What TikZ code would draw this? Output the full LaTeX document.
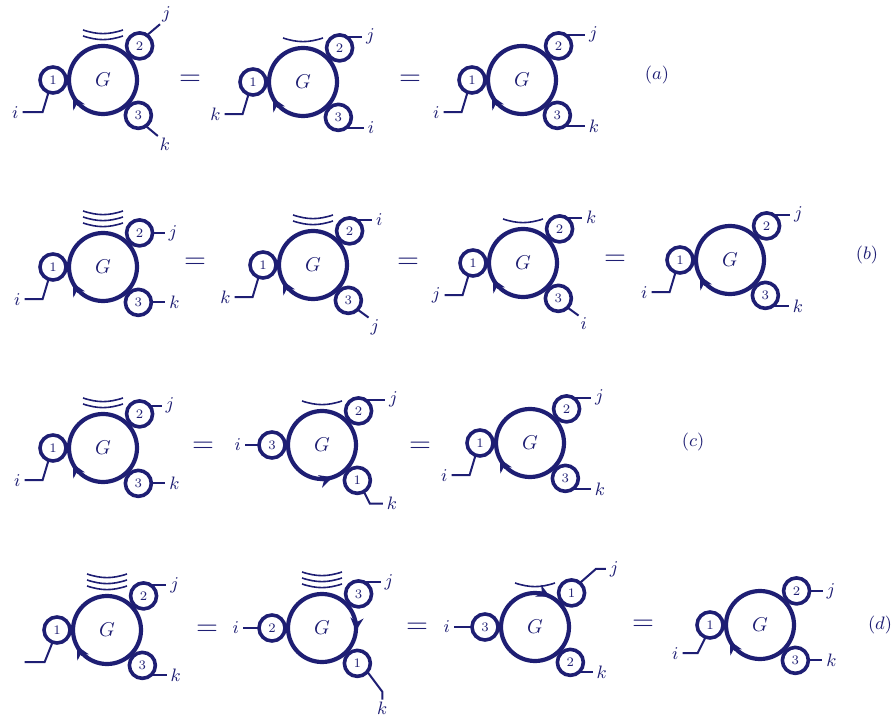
\documentclass[tikz,border=0pt]{standalone}
\usepackage{amsmath}
\usepackage{tikz}
\usetikzlibrary{arrows.meta}
\definecolor{ink}{RGB}{30, 30, 115}

% blob G with three small circles: name, centre, left, upper right, lower right
\newcommand{\gblob}[5]{%
  \node[bigc] (#1) at (#2) {$G$};
  \node[smallc] (#1a) at ([shift={(180:25pt)}]#1.center) {#3};
  \node[smallc] (#1b) at ([shift={(43:25pt)}]#1.center) {#4};
  \node[smallc] (#1c) at ([shift={(-45:25pt)}]#1.center) {#5};
}
% arcs above a blob
\newcommand{\garcs}[2]{%
  \foreach \n in {1,...,#2}
    \draw[arcline] ([shift={(-20,4+6*\n)}]#1.north) to[bend right=18] ++(40,0);
}

\begin{document}
\begin{tikzpicture}[x=0.5pt, y=0.5pt, color=ink,
    bigc/.style={circle, draw, line width=2.1pt, minimum size=34pt, inner sep=0pt, outer sep=0pt, font=\fontsize{10}{10}\selectfont},
    smallc/.style={circle, draw, line width=1.8pt, minimum size=13pt, inner sep=0pt, outer sep=0pt, font=\fontsize{6.5}{7}\selectfont},
    lead/.style={line width=1pt},
    lbl/.style={font=\fontsize{9.5}{10}\selectfont, inner sep=1.5pt},
    arcline/.style={line width=0.8pt},
    flow/.style={line width=2.1pt, -{Stealth[length=6.5pt,width=6.5pt]}},
    eq/.style={font=\fontsize{15}{15}\selectfont},
    tag/.style={font=\fontsize{9}{9}\selectfont}]
  \useasboundingbox (0,0) rectangle (893,718);

  % (a)
  \gblob{a1}{103,638}{1}{2}{3}
  \garcs{a1}{2}
  \draw[flow] (a1.226) arc (226:208:17pt);
  \draw[lead] (a1a.-110) -- ++(-6,-20) -- ++(-20,0) node[lbl,left] (a1i) {$i$};
  \draw[lead] (a1b.55) -- ++(13,11) node[lbl,above right,inner sep=0.5pt] (a1j) {$j$};
  \draw[lead] (a1c.-55) -- ++(12,-10) node[lbl,below right,inner sep=0.5pt] (a1k) {$k$};
  \node[eq] (ea1) at (190,638) {$=$};

  \gblob{a2}{303,636}{1}{2}{3}
  \garcs{a2}{1}
  \draw[flow] (a2.226) arc (226:208:17pt);
  \draw[lead] (a2a.-110) -- ++(-6,-20) -- ++(-18,0) node[lbl,left] (a2k) {$k$};
  \draw[lead] (a2b.60) -- ++(16,0) node[lbl,right] (a2j) {$j$};
  \draw[lead] (a2c.-55) -- ++(18,0) node[lbl,right] (a2i) {$i$};
  \node[eq] (ea2) at (410,638) {$=$};

  \gblob{a3}{522,638}{1}{2}{3}
  \draw[flow] (a3.226) arc (226:208:17pt);
  \draw[lead] (a3a.-110) -- ++(-6,-20) -- ++(-18,0) node[lbl,left] (a3i) {$i$};
  \draw[lead] (a3b.60) -- ++(20,0) node[lbl,right] (a3j) {$j$};
  \draw[lead] (a3c.-55) -- ++(20,0) node[lbl,right] (a3k) {$k$};
  \node[tag] (ta) at (657,643) {$(a)$};

  % (b)
  \gblob{b1}{103,451}{1}{2}{3}
  \garcs{b1}{3}
  \draw[flow] (b1.226) arc (226:208:17pt);
  \draw[lead] (b1a.-110) -- ++(-6,-20) -- ++(-18,0) node[lbl,left] (b1i) {$i$};
  \draw[lead] (b1b.0) -- ++(12,0) node[lbl,right] (b1j) {$j$};
  \draw[lead] (b1c.0) -- ++(14,0) node[lbl,right] (b1k) {$k$};
  \node[eq] (eb1) at (195,455) {$=$};

  \gblob{b2}{313,453}{1}{2}{3}
  \garcs{b2}{2}
  \draw[flow] (b2.226) arc (226:208:17pt);
  \draw[lead] (b2a.-110) -- ++(-6,-20) -- ++(-18,0) node[lbl,left] (b2k) {$k$};
  \draw[lead] (b2b.60) -- ++(16,0) node[lbl,right] (b2i) {$i$};
  \draw[lead] (b2c.-45) -- ++(11,-8) node[lbl,below right,inner sep=0.5pt] (b2j) {$j$};
  \node[eq] (eb2) at (408,455) {$=$};

  \gblob{b3}{523,455}{1}{2}{3}
  \garcs{b3}{1}
  \draw[flow] (b3.226) arc (226:208:17pt);
  \draw[lead] (b3a.-110) -- ++(-6,-20) -- ++(-18,0) node[lbl,left] (b3j) {$j$};
  \draw[lead] (b3b.60) -- ++(16,0) node[lbl,right] (b3k) {$k$};
  \draw[lead] (b3c.-45) -- ++(11,-8) node[lbl,below right,inner sep=0.5pt] (b3i) {$i$};
  \node[eq] (eb3) at (615,458) {$=$};

  \gblob{b4}{730,458}{1}{2}{3}
  \draw[flow] (b4.226) arc (226:208:17pt);
  \draw[lead] (b4a.-110) -- ++(-6,-20) -- ++(-18,0) node[lbl,left] (b4i) {$i$};
  \draw[lead] (b4b.60) -- ++(17,0) node[lbl,right] (b4j) {$j$};
  \draw[lead] (b4c.-55) -- ++(16,0) node[lbl,right] (b4k) {$k$};
  \node[tag] (tb) at (867,463) {$(b)$};

  % (c)
  \gblob{c1}{103,270}{1}{2}{3}
  \garcs{c1}{2}
  \draw[flow] (c1.226) arc (226:208:17pt);
  \draw[lead] (c1a.-110) -- ++(-6,-20) -- ++(-18,0) node[lbl,left] (c1i) {$i$};
  \draw[lead] (c1b.40) -- ++(12,0) node[lbl,right] (c1j) {$j$};
  \draw[lead] (c1c.0) -- ++(14,0) node[lbl,right] (c1k) {$k$};
  \node[eq] (ec1) at (203,271) {$=$};

  \gblob{c2}{322,273}{3}{2}{1}
  \garcs{c2}{1}
  \draw[flow] (c2.270) arc (270:288:17pt);
  \draw[lead] (c2a.180) -- ++(-14,0) node[lbl,left] (c2i) {$i$};
  \draw[lead] (c2b.60) -- ++(20,0) node[lbl,right] (c2j) {$j$};
  \draw[lead] (c2c.-60) -- ++(6,-12) -- ++(13,0) node[lbl,right] (c2k) {$k$};
  \node[eq] (ec2) at (420,271) {$=$};

  \gblob{c3}{530,275}{1}{2}{3}
  \draw[flow] (c3.226) arc (226:208:17pt);
  \draw[lead] (c3a.-110) -- ++(-6,-20) -- ++(-18,0) node[lbl,left] (c3i) {$i$};
  \draw[lead] (c3b.60) -- ++(18,0) node[lbl,right] (c3j) {$j$};
  \draw[lead] (c3c.-55) -- ++(18,0) node[lbl,right] (c3k) {$k$};
  \node[tag] (tc) at (693,276) {$(c)$};

  % (d)
  \gblob{d1}{107,88}{1}{2}{3}
  \garcs{d1}{3}
  \draw[flow] (d1.226) arc (226:208:17pt);
  \draw[lead] (d1a.-110) -- ++(-8,-20) -- ++(-20,0);
  \draw[lead] (d1b.58) -- ++(16,0) node[lbl,right] (d1j) {$j$};
  \draw[lead] (d1c.-50) -- ++(16,0) node[lbl,right] (d1k) {$k$};
  \node[eq] (ed1) at (207,88) {$=$};

  \gblob{d2}{322,90}{2}{3}{1}
  \garcs{d2}{3}
  \draw[flow] (d2.12) arc (12:-5:17pt);
  \draw[lead] (d2a.180) -- ++(-16,0) node[lbl,left] (d2i) {$i$};
  \draw[lead] (d2b.62) -- ++(16,0) node[lbl,right] (d2j) {$j$};
  \draw[lead] (d2c.-40) -- ++(15,-20) -- ++(0,-8) node[lbl,below,inner sep=0.5pt] (d2k) {$k$};
  \node[eq] (ed2) at (417,90) {$=$};

  \gblob{d3}{535,91}{3}{1}{2}
  \garcs{d3}{1}
  \draw[flow] (d3.82) arc (82:64:17pt);
  \draw[lead] (d3a.180) -- ++(-18,0) node[lbl,left] (d3i) {$i$};
  \draw[lead] (d3b.50) -- ++(16,14) -- ++(10,0) node[lbl,right] (d3j) {$j$};
  \draw[lead] (d3c.-50) -- ++(14,0) node[lbl,right] (d3k) {$k$};
  \node[eq] (ed3) at (643,93) {$=$};

  \gblob{d4}{760,93}{1}{2}{3}
  \draw[flow] (d4.226) arc (226:208:17pt);
  \draw[lead] (d4a.-110) -- ++(-8,-16) -- ++(-15,0) node[lbl,left] (d4i) {$i$};
  \draw[lead] (d4b.0) -- ++(13,0) node[lbl,right] (d4j) {$j$};
  \draw[lead] (d4c.0) -- ++(14,0) node[lbl,right] (d4k) {$k$};
  \node[tag] (td) at (880,93) {$(d)$};
\end{tikzpicture}
\end{document}
